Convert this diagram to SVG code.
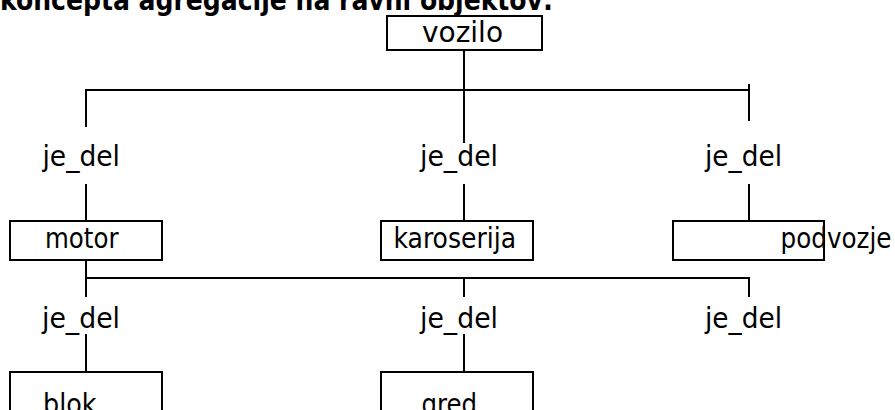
<svg xmlns="http://www.w3.org/2000/svg" width="895" height="410" viewBox="0 0 895 410">
<style>
  .box{fill:#fff;stroke:#000;stroke-width:2}
  .t{font-family:"DejaVu Sans Condensed","DejaVu Sans",sans-serif;font-size:29px;fill:#000}
  .title{font-family:"DejaVu Sans Condensed","DejaVu Sans",sans-serif;font-size:28px;font-weight:bold;fill:#000}
  .c line{stroke:#000;stroke-width:2;fill:none}
</style>
<rect width="895" height="410" fill="#fff"/>
<text class="title" x="0" y="10" textLength="553" lengthAdjust="spacingAndGlyphs">koncepta agregacije na ravni objektov:</text>
<g class="c" id="connectors">
  <line x1="464" y1="50" x2="464" y2="143"/>
  <line x1="85" y1="90" x2="750" y2="90"/>
  <line x1="86" y1="89" x2="86" y2="127"/>
  <line x1="749" y1="84" x2="749" y2="121"/>
  <line x1="86" y1="184" x2="86" y2="221"/>
  <line x1="464" y1="184" x2="464" y2="221"/>
  <line x1="749" y1="184" x2="749" y2="221"/>
  <line x1="86" y1="260" x2="86" y2="297"/>
  <line x1="86" y1="278" x2="750" y2="278"/>
  <line x1="464" y1="278" x2="464" y2="297"/>
  <line x1="749" y1="277" x2="749" y2="297"/>
  <line x1="86" y1="334" x2="86" y2="372"/>
  <line x1="464" y1="334" x2="464" y2="372"/>
</g>
<g id="rel1"><text class="t" x="42.5" y="166" textLength="77.5" lengthAdjust="spacingAndGlyphs">je_del</text></g>
<g id="rel2"><text class="t" x="420" y="166" textLength="78" lengthAdjust="spacingAndGlyphs">je_del</text></g>
<g id="rel3"><text class="t" x="705" y="166" textLength="77" lengthAdjust="spacingAndGlyphs">je_del</text></g>
<g id="rel4"><text class="t" x="42" y="328" textLength="78" lengthAdjust="spacingAndGlyphs">je_del</text></g>
<g id="rel5"><text class="t" x="420" y="328" textLength="78" lengthAdjust="spacingAndGlyphs">je_del</text></g>
<g id="rel6"><text class="t" x="705" y="328" textLength="77" lengthAdjust="spacingAndGlyphs">je_del</text></g>
<g id="vozilo">
  <rect class="box" x="387" y="16" width="155" height="34"/>
  <text class="t" x="422" y="42" textLength="81" lengthAdjust="spacingAndGlyphs">vozilo</text>
</g>
<g id="motor">
  <rect class="box" x="10" y="221" width="152" height="39"/>
  <text class="t" x="45" y="247.5" textLength="73.5" lengthAdjust="spacingAndGlyphs">motor</text>
</g>
<g id="karoserija">
  <rect class="box" x="381" y="221" width="152" height="39"/>
  <text class="t" x="393.5" y="247.5" textLength="122.5" lengthAdjust="spacingAndGlyphs">karoserija</text>
</g>
<g id="podvozje">
  <rect class="box" x="673" y="221" width="151" height="39"/>
  <text class="t" x="780.5" y="247.5" textLength="111" lengthAdjust="spacingAndGlyphs">podvozje</text>
</g>
<g id="blok">
  <rect class="box" x="10" y="372" width="152" height="45"/>
  <text class="t" x="43" y="413.5" textLength="53.5" lengthAdjust="spacingAndGlyphs">blok</text>
</g>
<g id="gred">
  <rect class="box" x="381" y="372" width="152" height="45"/>
  <text class="t" x="421.5" y="413.5" textLength="55.5" lengthAdjust="spacingAndGlyphs">gred</text>
</g>
</svg>
